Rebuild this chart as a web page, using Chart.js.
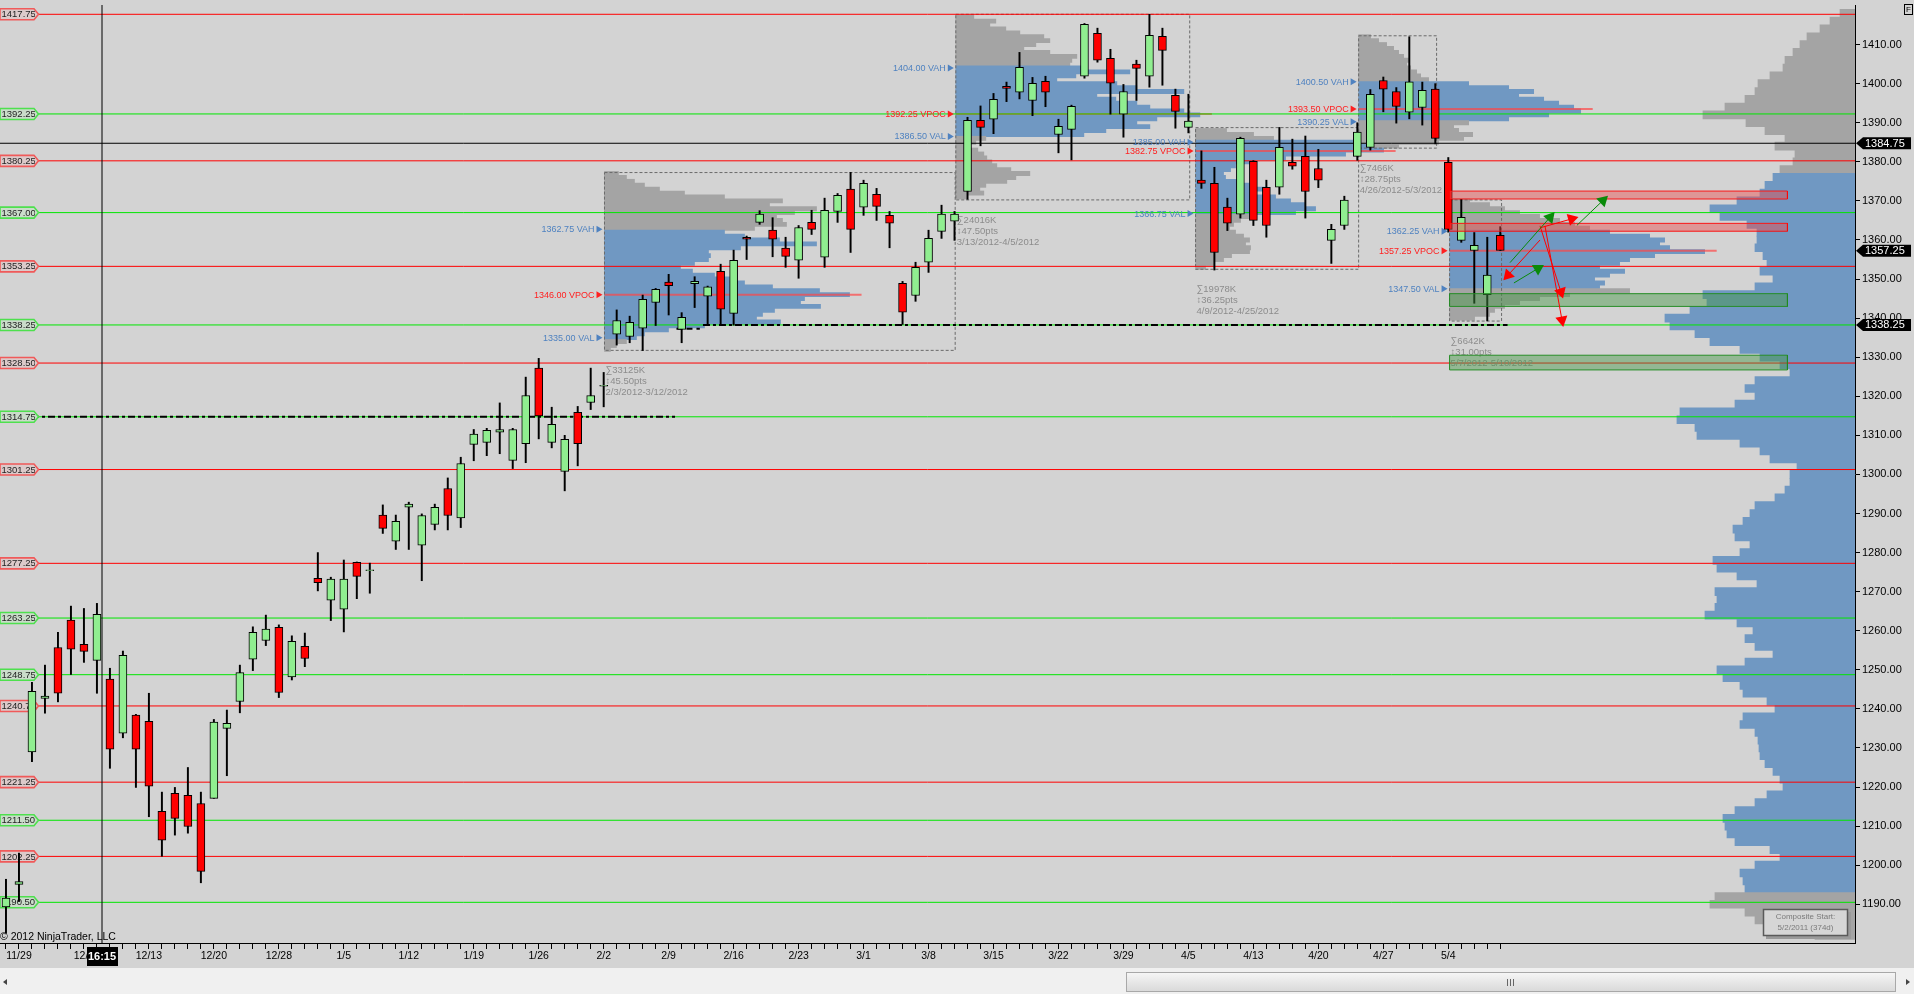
<!DOCTYPE html>
<html lang="en">
<head>
<meta charset="UTF-8">
<title>ES Daily - Volume Profile</title>
<script src="https://cdn.jsdelivr.net/npm/chart.js"></script>
<style>
  html, body { margin: 0; padding: 0; background: #d3d3d3; overflow: hidden; }
  #wrap { width: 1914px; height: 994px; }
</style>
</head>
<body>
<div id="wrap"><canvas id="chart" width="1914" height="994"></canvas></div>
<script>
// ---- daily bars, 11/28/2011 .. 5/10/2012 ----
var opens = [1189.3,1195.1,1229.0,1242.7,1255.7,1262.7,1256.5,1252.4,1247.6,1233.8,
  1238.4,1236.8,1213.8,1218.4,1217.9,1215.8,1217.1,1235.0,1241.9,1252.7,
  1257.5,1260.9,1248.2,1256.0,1273.4,1267.8,1265.5,1277.5,1275.4,1289.6,
  1282.9,1291.6,1281.9,1287.2,1296.4,1288.9,1307.7,1308.2,1310.8,1303.6,
  1307.9,1327.2,1308.2,1300.8,1315.9,1318.4,1322.6,1335.9,1335.3,1337.4,
  1344.0,1349.2,1337.1,1348.8,1345.6,1352.0,1341.2,1360.7,1364.5,1362.5,
  1357.9,1354.8,1364.5,1355.6,1367.3,1373.0,1368.4,1371.7,1366.3,1348.9,
  1345.8,1354.3,1362.2,1364.8,1372.4,1390.6,1390.9,1399.3,1397.8,1395.7,
  1400.6,1387.0,1388.3,1401.9,1412.9,1406.5,1392.2,1405.0,1401.9,1412.1,
  1397.0,1388.8,1375.3,1374.5,1368.4,1366.6,1380.1,1373.5,1373.5,1379.9,
  1381.4,1378.3,1359.9,1363.7,1381.4,1383.7,1400.8,1398.0,1392.7,1393.9,
  1398.6,1379.9,1359.9,1357.3,1346.0,1361.2];
var highs = [1196.4,1203.1,1246.8,1251.2,1259.6,1266.3,1265.7,1267.0,1250.4,1254.8,
  1238.6,1244.0,1218.7,1219.9,1225.0,1218.7,1237.3,1239.7,1251.2,1261.0,
  1264.0,1261.5,1258.7,1259.4,1280.0,1273.7,1278.1,1277.6,1277.3,1292.2,
  1289.6,1292.9,1289.9,1292.4,1299.1,1304.4,1311.5,1311.8,1318.3,1311.8,
  1324.9,1329.7,1317.2,1310.0,1317.4,1327.2,1326.1,1342.1,1340.5,1345.9,
  1347.6,1351.2,1341.4,1350.6,1348.2,1353.8,1357.4,1361.0,1367.5,1365.7,
  1360.7,1363.7,1367.6,1370.7,1371.9,1377.3,1375.3,1373.2,1367.3,1349.4,
  1354.3,1362.5,1368.9,1367.3,1391.4,1394.3,1397.5,1400.4,1408.0,1401.6,
  1401.9,1390.9,1394.5,1415.4,1414.2,1408.8,1399.8,1406.0,1417.75,1414.2,
  1398.6,1397.3,1382.8,1378.6,1370.7,1386.3,1380.3,1375.3,1388.8,1385.8,
  1386.6,1383.2,1364.0,1371.2,1390.0,1398.5,1401.7,1399.0,1412.0,1400.4,
  1400.0,1381.1,1370.4,1361.9,1360.7,1363.4];
var lows = [1182.6,1190.7,1226.5,1238.9,1241.8,1248.8,1251.9,1244.0,1224.8,1232.6,
  1219.9,1212.4,1202.3,1207.7,1208.2,1195.5,1217.1,1222.9,1239.0,1249.8,
  1256.2,1242.9,1247.4,1250.8,1270.2,1262.6,1259.7,1268.2,1269.6,1284.9,
  1280.8,1280.8,1272.8,1285.8,1285.8,1286.4,1303.5,1304.8,1305.3,1301.5,
  1303.0,1309.1,1306.8,1295.8,1302.2,1316.6,1317.3,1333.1,1333.7,1331.7,
  1338.1,1340.8,1333.7,1342.7,1338.2,1338.2,1338.2,1355.0,1364.0,1355.7,
  1353.0,1350.2,1361.4,1353.0,1364.5,1356.8,1366.3,1365.0,1358.0,1338.4,
  1344.3,1351.7,1360.4,1359.9,1370.4,1384.1,1387.2,1395.4,1396.1,1391.8,
  1394.1,1382.3,1380.5,1401.4,1405.5,1392.2,1386.3,1395.7,1399.1,1399.6,
  1388.6,1387.4,1373.2,1352.3,1362.4,1365.6,1363.7,1360.7,1371.7,1378.1,
  1365.6,1373.4,1354.0,1362.7,1380.4,1383.0,1392.8,1389.9,1391.0,1389.4,
  1384.6,1362.0,1359.4,1343.8,1339.3,1357.3];
var closes = [1191.6,1195.8,1244.5,1243.3,1244.0,1255.3,1254.7,1264.2,1229.7,1253.7,
  1229.7,1220.2,1206.4,1212.0,1209.9,1198.4,1236.6,1236.3,1249.3,1259.6,
  1260.4,1244.2,1257.3,1252.9,1272.3,1273.2,1273.2,1273.9,1275.6,1286.2,
  1288.0,1292.4,1289.5,1291.6,1289.5,1302.8,1310.3,1311.3,1311.5,1311.5,
  1320.2,1315.0,1312.8,1309.0,1307.9,1320.2,1322.8,1339.4,1338.9,1344.8,
  1347.4,1348.3,1340.2,1349.4,1348.0,1342.3,1354.8,1360.2,1366.6,1360.2,
  1355.8,1363.2,1362.7,1367.6,1371.4,1362.7,1374.5,1368.6,1364.3,1341.5,
  1353.0,1360.4,1366.6,1366.6,1390.6,1388.8,1396.0,1398.8,1404.2,1400.1,
  1397.8,1389.1,1394.2,1415.2,1406.0,1400.1,1398.0,1403.9,1412.4,1408.5,
  1392.9,1390.4,1374.5,1356.8,1364.3,1386.0,1365.0,1363.7,1383.7,1378.9,
  1372.4,1375.3,1362.7,1370.2,1387.6,1397.3,1398.6,1394.2,1400.5,1398.3,
  1386.0,1362.7,1365.8,1358.6,1351.0,1357.3];

var dateTickIndex = [1, 6, 11, 16, 21, 26, 31, 36, 41, 46, 51, 56, 61, 66, 71, 76, 81, 86, 91, 96, 101, 106, 111];
var dateTickText = ['11/29','12/6','12/13','12/20','12/28','1/5','1/12','1/19','1/26','2/2','2/9','2/16',
  '2/23','3/1','3/8','3/15','3/22','3/29','4/5','4/13','4/20','4/27','5/4'];
var priceTicks = [1190,1200,1210,1220,1230,1240,1250,1260,1270,1280,1290,1300,
  1310,1320,1330,1340,1350,1360,1370,1380,1390,1400,1410];

// horizontal levels
var redLevels = [1417.75, 1380.25, 1353.25, 1328.50, 1301.25, 1277.25, 1240.75, 1221.25, 1202.25];
var greenLevels = [1392.25, 1367.00, 1338.25, 1314.75, 1263.25, 1248.75, 1211.50, 1190.50];

// composite volume profile (5/2/2011 start), 2 pt rows
var compositePrices = [1418,1416,1414,1412,1410,1408,1406,1404,1402,1400,
  1398,1396,1394,1392,1390,1388,1386,1384,1382,1380,
  1378,1376,1374,1372,1370,1368,1366,1364,1362,1360,
  1358,1356,1354,1352,1350,1348,1346,1344,1342,1340,
  1338,1336,1334,1332,1330,1328,1326,1324,1322,1320,
  1318,1316,1314,1312,1310,1308,1306,1304,1302,1300,
  1298,1296,1294,1292,1290,1288,1286,1284,1282,1280,
  1278,1276,1274,1272,1270,1268,1266,1264,1262,1260,
  1258,1256,1254,1252,1250,1248,1246,1244,1242,1240,
  1238,1236,1234,1232,1230,1228,1226,1224,1222,1220,
  1218,1216,1214,1212,1210,1208,1206,1204,1202,1200,
  1198,1196,1194,1192,1190,1188,1186,1184,1182];
var compositeVolume = [15,25,35,48,55,62,70,72,85,97,
  100,110,130,152,109,90,70,80,60,62,
  75,82,90,95,118,145,135,108,98,98,
  100,92,88,95,82,100,152,148,165,190,
  185,160,145,115,95,75,65,100,110,100,
  120,175,178,160,158,115,95,85,58,65,
  65,70,80,100,105,112,122,120,105,115,
  142,138,118,98,140,138,140,150,118,102,
  110,100,82,110,138,132,115,112,88,80,
  112,115,100,97,96,95,90,82,75,72,
  88,100,120,132,130,128,120,85,75,100,
  115,112,110,140,145,110,100,70,40];
var compositeVAH = 1377, compositeVAL = 1193;

// session profiles
var boxAPrices = [1377,1376,1375,1374,1373,1372,1371,1370,1369,1368,1367,1366,1365,1364,1363,1362,
  1361,1360,1359,1358,1357,1356,1355,1354,1353,1352,1351,1350,1349,1348,1347,1346,
  1345,1344,1343,1342,1341,1340,1339,1338,1337,1336,1335,1334,1333,1332];
var boxAVolume = [14,22,30,40,55,80,120,178,165,212,190,172,178,182,150,120,
  140,175,212,136,104,106,104,90,76,88,110,125,140,168,215,245,
  200,196,216,170,158,152,176,100,64,40,32,22,12,6];
var boxBPrices = [1417,1416,1415,1414,1413,1412,1411,1410,1409,1408,1407,1406,1405,1404,1403,1402,
  1401,1400,1399,1398,1397,1396,1395,1394,1393,1392,1391,1390,1389,1388,1387,1386,
  1385,1384,1383,1382,1381,1380,1379,1378,1377,1376,1375,1374,1373,1372,1371];
var boxBVolume = [18,40,34,50,64,88,94,80,68,94,121,116,114,128,174,120,
  101,161,181,228,141,160,181,194,228,244,201,181,194,150,128,30,
  20,14,22,28,31,36,41,55,74,60,51,30,24,28,11];
var boxCPrices = [1388,1387,1386,1385,1384,1383,1382,1381,1380,1379,1378,1377,1376,1375,1374,1373,
  1372,1371,1370,1369,1368,1367,1366,1365,1364,1363,1362,1361,1360,1359,1358,1357,
  1356,1355,1354,1353];
var boxCVolume = [31,58,78,160,175,188,150,90,60,40,35,28,30,45,60,70,
  55,80,95,110,120,100,60,45,38,34,40,48,54,50,55,54,
  36,28,18,10];
var boxDPrices = [1412,1411,1410,1409,1408,1407,1406,1405,1404,1403,1402,1401,1400,1399,1398,1397,
  1396,1395,1394,1393,1392,1391,1390,1389,1388,1387,1386,1385,1384];
var boxDVolume = [12,20,28,35,40,45,50,48,52,58,62,70,110,150,175,160,
  185,200,215,222,190,150,110,95,100,114,105,80,40];
var boxEPrices = [1370,1369,1368,1367,1366,1365,1364,1363,1362,1361,1360,1359,1358,1357,1356,1355,
  1354,1353,1352,1351,1350,1349,1348,1347,1346,1345,1344,1343,1342,1341,1340];
var boxEVolume = [20,40,55,70,90,110,125,140,160,200,215,210,220,255,205,180,
  170,150,175,160,145,155,150,180,120,90,70,55,45,40,25];

var boxFrom = [46.06, 73.1, 91.55, 104.1, 111.1];
var boxTo = [73.05, 91.1, 104.1, 110.1, 115.1];
var boxHigh = [1377.25, 1417.75, 1388.75, 1412.25, 1370.25];
var boxLow = [1331.75, 1370.25, 1352.50, 1383.50, 1339.25];
var boxVAH = [1362.75, 1404.00, 1385.00, 1400.50, 1362.25];
var boxVPOC = [1346.00, 1392.25, 1382.75, 1393.50, 1357.25];
var boxVAL = [1335.00, 1386.50, 1366.75, 1390.25, 1347.50];
var boxVolumeK = [33125, 24016, 19978, 7466, 6642];
var boxDates = ['2/3/2012-3/12/2012', '3/13/2012-4/5/2012', '4/9/2012-4/25/2012', '4/26/2012-5/3/2012', '5/7/2012-5/10/2012'];

// zones drawn by hand
var zoneFrom = 111.1, zoneTo = 137.1;
var zoneTop = [1372.5, 1364.25, 1346.25, 1330.50];
var zoneBottom = [1370.5, 1362.25, 1343.00, 1326.75];
var zoneIsSell = [true, true, false, false];

// arrows (bar index / price)
var arrowX0 = [115.75, 120.9, 116.05, 118.06, 118.44, 118.06, 118.06];
var arrowY0 = [1354.2, 1363.75, 1349.0, 1363.6, 1363.6, 1360.0, 1363.1];
var arrowX1 = [118.83, 122.9, 117.9, 119.67, 119.75, 115.6, 120.5];
var arrowY1 = [1365.8, 1370.1, 1352.7, 1346.7, 1339.5, 1351.0, 1365.4];
var arrowUp = [true, true, true, false, false, false, false];

// dashed black lines
var dashPrice = [1314.75, 1338.25, 1337.25];
var dashFrom = [-0.46, 53.64, 51.6];
var dashTo = [51.49, 115.56, 53.4];

var crossPrice = 1384.75, crossBar = 7.39;
var markerPrices = [1384.75, 1357.25, 1338.25];

// ---- chart ----
var FONT = "'Liberation Sans', Arial, sans-serif";
var xMin = -0.46, xMax = 142.3, yMin = 1180.09, yMax = 1420.13;
var volToBars = 1 / 12.99;
var BLUE = '#7098c2', GRAY = '#a4a4a4';

var boxes = [
  { prices: boxAPrices, vol: boxAVolume },
  { prices: boxBPrices, vol: boxBVolume },
  { prices: boxCPrices, vol: boxCVolume },
  { prices: boxDPrices, vol: boxDVolume },
  { prices: boxEPrices, vol: boxEVolume }
];

var ds = [];
function hline(p, x0, x1, color, width, dash, order) {
  return { type: 'line', data: [{ x: x0, y: p }, { x: x1, y: p }], borderColor: color, borderWidth: width,
    borderDash: dash || [], pointRadius: 0, order: order };
}

// candles
ds.push({ type: 'bar', label: 'body', grouped: false, order: 1, barThickness: 8,
  data: opens.map(function (o, i) { return { x: i, y: [o, closes[i]] }; }),
  backgroundColor: opens.map(function (o, i) { return closes[i] >= o ? '#90ee90' : '#ff0000'; }),
  borderColor: '#000', borderWidth: 1, borderSkipped: false });
var wickIndex = ds.length;
ds.push({ type: 'bar', label: 'wick', grouped: false, order: 2, barThickness: 1.3,
  data: opens.map(function (o, i) { return { x: i, y: [lows[i], highs[i]] }; }),
  backgroundColor: '#000', borderWidth: 0 });

// composite profile
ds.push({ type: 'bar', indexAxis: 'y', grouped: false, order: 100, barThickness: 8,
  data: compositePrices.map(function (p, i) { return { y: p, x: [xMax - compositeVolume[i] * volToBars, xMax] }; }),
  backgroundColor: compositePrices.map(function (p) { return (p > compositeVAH || p < compositeVAL) ? GRAY : BLUE; }),
  borderWidth: 0 });

// session profiles, outlines, vpoc lines
boxes.forEach(function (b, k) {
  var left = boxFrom[k];
  ds.push({ type: 'bar', indexAxis: 'y', grouped: false, order: 90, barThickness: 4.2,
    data: b.prices.map(function (p, i) { return { y: p, x: [left, left + b.vol[i] * volToBars] }; }),
    backgroundColor: b.prices.map(function (p) { return (p >= boxVAL[k] && p <= boxVAH[k]) ? BLUE : GRAY; }),
    borderWidth: 0 });
  var maxVol = Math.max.apply(null, b.vol);
  ds.push(hline(boxVPOC[k], left, left + (maxVol + 12) * volToBars, 'rgba(255,70,70,0.7)', 2, null, 85));
  ds.push({ type: 'line', order: 80, pointRadius: 0, borderColor: '#6a6a6a', borderWidth: 1, borderDash: [3, 2],
    data: [{ x: left, y: boxHigh[k] }, { x: boxTo[k], y: boxHigh[k] }, { x: boxTo[k], y: boxLow[k] },
           { x: left, y: boxLow[k] }, { x: left, y: boxHigh[k] }] });
});

// levels
redLevels.forEach(function (p) { ds.push(hline(p, xMin, xMax, '#ff0000', 1, null, 70)); });
greenLevels.forEach(function (p) { ds.push(hline(p, xMin, xMax, '#00e600', 1, null, 70)); });

// crosshair
ds.push(hline(crossPrice, xMin, xMax, '#000', 1, null, 40));
ds.push({ type: 'line', order: 40, pointRadius: 0, borderColor: '#000', borderWidth: 1,
  data: [{ x: crossBar, y: yMin }, { x: crossBar, y: yMax }] });

// dashed black lines
dashPrice.forEach(function (p, i) {
  ds.push(hline(p, dashFrom[i], dashTo[i], '#000', 2, i === 2 ? [6, 4] : [7, 3, 3, 3], 60));
});

// zones
zoneTop.forEach(function (t, i) {
  var b = zoneBottom[i];
  ds.push({ type: 'line', order: -1, pointRadius: 0, borderWidth: 0,
    backgroundColor: zoneIsSell[i] ? 'rgba(235,75,75,0.45)' : 'rgba(69,151,69,0.45)',
    fill: { value: b }, data: [{ x: zoneFrom, y: t }, { x: zoneTo, y: t }] });
  ds.push({ type: 'line', order: -1, pointRadius: 0, borderWidth: 1,
    borderColor: zoneIsSell[i] ? '#ff0000' : '#1e8a1e',
    data: [{ x: zoneFrom, y: b }, { x: zoneFrom, y: t }, { x: zoneTo, y: t }, { x: zoneTo, y: b }, { x: zoneFrom, y: b }] });
});

// arrows
function arrowRotation(ctx) {
  var ch = ctx.chart, d = ctx.dataset.data;
  var dx = ch.scales.x.getPixelForValue(d[1].x) - ch.scales.x.getPixelForValue(d[0].x);
  var dy = ch.scales.y.getPixelForValue(d[1].y) - ch.scales.y.getPixelForValue(d[0].y);
  return Math.atan2(dx, -dy) * 180 / Math.PI;
}
arrowX0.forEach(function (x0, i) {
  var col = arrowUp[i] ? '#0a8a0a' : '#ff0000';
  ds.push({ type: 'line', order: -2, borderColor: col, borderWidth: 1,
    data: [{ x: x0, y: arrowY0[i] }, { x: arrowX1[i], y: arrowY1[i] }],
    pointRadius: [0, 7], pointStyle: 'triangle', pointBackgroundColor: col, pointBorderColor: col,
    pointBorderWidth: 0, pointRotation: arrowRotation });
});

// ---- drawing helpers ----
function px(chart, v) { return chart.scales.x.getPixelForValue(v); }
function py(chart, v) { return chart.scales.y.getPixelForValue(v); }

function drawFlag(c, y, text, stroke, fill) {
  c.beginPath();
  c.moveTo(0, y - 5.5); c.lineTo(34, y - 5.5); c.lineTo(38.5, y); c.lineTo(34, y + 5.5); c.lineTo(0, y + 5.5);
  c.closePath();
  c.fillStyle = fill; c.fill();
  c.lineWidth = 1.6; c.strokeStyle = stroke; c.stroke();
  c.save();
  c.beginPath(); c.rect(0, y - 6, 35, 12); c.clip();
  c.fillStyle = '#1e1e1e'; c.font = '9.5px ' + FONT; c.textAlign = 'left'; c.textBaseline = 'middle';
  c.fillText(text, 1.5, y + 0.5);
  c.restore();
}

function vaTag(c, x0, y, text, color) {
  c.fillStyle = color;
  c.beginPath(); c.moveTo(x0 - 2, y); c.lineTo(x0 - 8, y - 3.5); c.lineTo(x0 - 8, y + 3.5); c.closePath(); c.fill();
  c.font = '9px ' + FONT; c.textAlign = 'right'; c.textBaseline = 'middle';
  c.fillText(text, x0 - 10, y + 0.5);
}

var decor = {
  id: 'decor',
  beforeDraw: function (chart) {
    var c = chart.ctx;
    c.save();
    c.fillStyle = '#d3d3d3';
    c.fillRect(0, 0, chart.width, chart.height);
    c.restore();
  },
  beforeDatasetDraw: function (chart, args) {
    if (args.index !== wickIndex) return;
    var c = chart.ctx;
    c.save();
    redLevels.forEach(function (p) { drawFlag(c, py(chart, p), p.toFixed(2), '#f05a5a', '#dccaca'); });
    greenLevels.forEach(function (p) { drawFlag(c, py(chart, p), p.toFixed(2), '#4ee04e', '#cadcca'); });
    boxFrom.forEach(function (f, k) {
      var x0 = px(chart, f), yb = py(chart, boxLow[k]);
      c.font = '9.5px ' + FONT; c.fillStyle = '#8c8c8c'; c.textAlign = 'left'; c.textBaseline = 'middle';
      c.fillText('\u2211' + boxVolumeK[k] + 'K', x0 + 1, yb + 20);
      c.fillText('\u2195' + (boxHigh[k] - boxLow[k]).toFixed(2) + 'pts', x0 + 1, yb + 31);
      c.fillText(boxDates[k], x0 + 1, yb + 42);
      vaTag(c, x0, py(chart, boxVAH[k]), boxVAH[k].toFixed(2) + ' VAH', '#4f82c0');
      vaTag(c, x0, py(chart, boxVPOC[k]), boxVPOC[k].toFixed(2) + ' VPOC', '#ff2020');
      vaTag(c, x0, py(chart, boxVAL[k]), boxVAL[k].toFixed(2) + ' VAL', '#4f82c0');
    });
    c.restore();
  },
  afterDraw: function (chart) {
    var c = chart.ctx, a = chart.chartArea;
    c.save();
    // price markers on the axis
    markerPrices.forEach(function (p) {
      var y = py(chart, p), x = a.right;
      c.fillStyle = '#000';
      c.beginPath();
      c.moveTo(x + 1, y); c.lineTo(x + 8, y - 6); c.lineTo(1911, y - 6); c.lineTo(1911, y + 6); c.lineTo(x + 8, y + 6);
      c.closePath(); c.fill();
      c.fillStyle = '#fff'; c.font = '11px ' + FONT; c.textAlign = 'left'; c.textBaseline = 'middle';
      c.fillText(p.toFixed(2), x + 10, y + 0.5);
    });
    // crosshair time label
    var cx = px(chart, crossBar);
    c.fillStyle = '#000'; c.fillRect(cx - 15, 947, 31, 19);
    c.fillStyle = '#fff'; c.font = 'bold 11px ' + FONT; c.textAlign = 'center'; c.textBaseline = 'middle';
    c.fillText('16:15', cx, 957);
    // copyright
    c.fillStyle = '#000'; c.font = '10.5px ' + FONT; c.textAlign = 'left';
    c.fillText('\u00a9 2012 NinjaTrader, LLC', 0, 937);
    // composite start box
    c.fillStyle = '#9a9a9a'; c.fillRect(1766, 912, 85, 27);
    c.fillStyle = '#d6d6d6'; c.fillRect(1763, 909, 85, 27);
    c.strokeStyle = '#5a5a5a'; c.lineWidth = 1.5; c.strokeRect(1763.5, 909.5, 84, 26);
    c.fillStyle = '#7a7a7a'; c.font = '8px ' + FONT; c.textAlign = 'center';
    c.fillText('Composite Start:', 1805.5, 917);
    c.fillText('5/2/2011 (374d)', 1805.5, 928);
    // F box
    c.strokeStyle = '#000'; c.lineWidth = 1; c.strokeRect(1904.5, 4.5, 8, 10);
    c.fillStyle = '#000'; c.font = '8px ' + FONT; c.fillText('F', 1908.5, 10);
    // scroll bar
    c.fillStyle = '#f0f0f0'; c.fillRect(0, 968, chart.width, 26);
    var g = c.createLinearGradient(0, 972, 0, 992);
    g.addColorStop(0, '#f7f7f7'); g.addColorStop(1, '#d8d8d8');
    c.fillStyle = g; c.fillRect(1126, 972, 770, 20);
    c.strokeStyle = '#a8a8a8'; c.strokeRect(1126.5, 972.5, 769, 19);
    c.strokeStyle = '#666';
    [1507, 1510, 1513].forEach(function (x) { c.beginPath(); c.moveTo(x + 0.5, 979); c.lineTo(x + 0.5, 986); c.stroke(); });
    c.fillStyle = '#444';
    c.beginPath(); c.moveTo(3, 982); c.lineTo(7, 979); c.lineTo(7, 985); c.closePath(); c.fill();
    c.beginPath(); c.moveTo(1910, 982); c.lineTo(1906, 979); c.lineTo(1906, 985); c.closePath(); c.fill();
    c.restore();
  }
};

Chart.defaults.font.family = FONT;

new Chart(document.getElementById('chart'), {
  type: 'bar',
  data: { datasets: ds },
  options: {
    responsive: false,
    animation: false,
    events: [],
    layout: { autoPadding: false, padding: { top: 5, left: 0, right: 0, bottom: 0 } },
    plugins: { legend: { display: false }, tooltip: { enabled: false } },
    scales: {
      x: {
        type: 'linear', position: 'bottom', min: xMin, max: xMax, offset: false,
        afterBuildTicks: function (s) { s.ticks = opens.map(function (o, i) { return { value: i }; }); },
        afterFit: function (s) { s.height = 51; s.paddingLeft = 0; s.paddingRight = 0; },
        ticks: {
          autoSkip: false, maxRotation: 0, minRotation: 0, padding: 1, color: '#000', font: { size: 10.5 },
          callback: function (v) { var k = dateTickIndex.indexOf(v); return k >= 0 ? dateTickText[k] : ''; }
        },
        grid: { drawOnChartArea: false, drawTicks: true, tickLength: 6, color: '#000', offset: false },
        border: { color: '#000', width: 1 }
      },
      y: {
        type: 'linear', position: 'right', min: yMin, max: yMax, offset: false,
        afterBuildTicks: function (s) { s.ticks = priceTicks.map(function (v) { return { value: v }; }); },
        afterFit: function (s) { s.width = 59; s.paddingTop = 0; s.paddingBottom = 0; },
        ticks: { color: '#000', font: { size: 11 }, padding: 2, callback: function (v) { return v.toFixed(2); } },
        grid: { drawOnChartArea: false, tickLength: 5, color: '#000', offset: false },
        border: { color: '#000', width: 1 }
      }
    }
  },
  plugins: [decor]
});
</script>
</body>
</html>
